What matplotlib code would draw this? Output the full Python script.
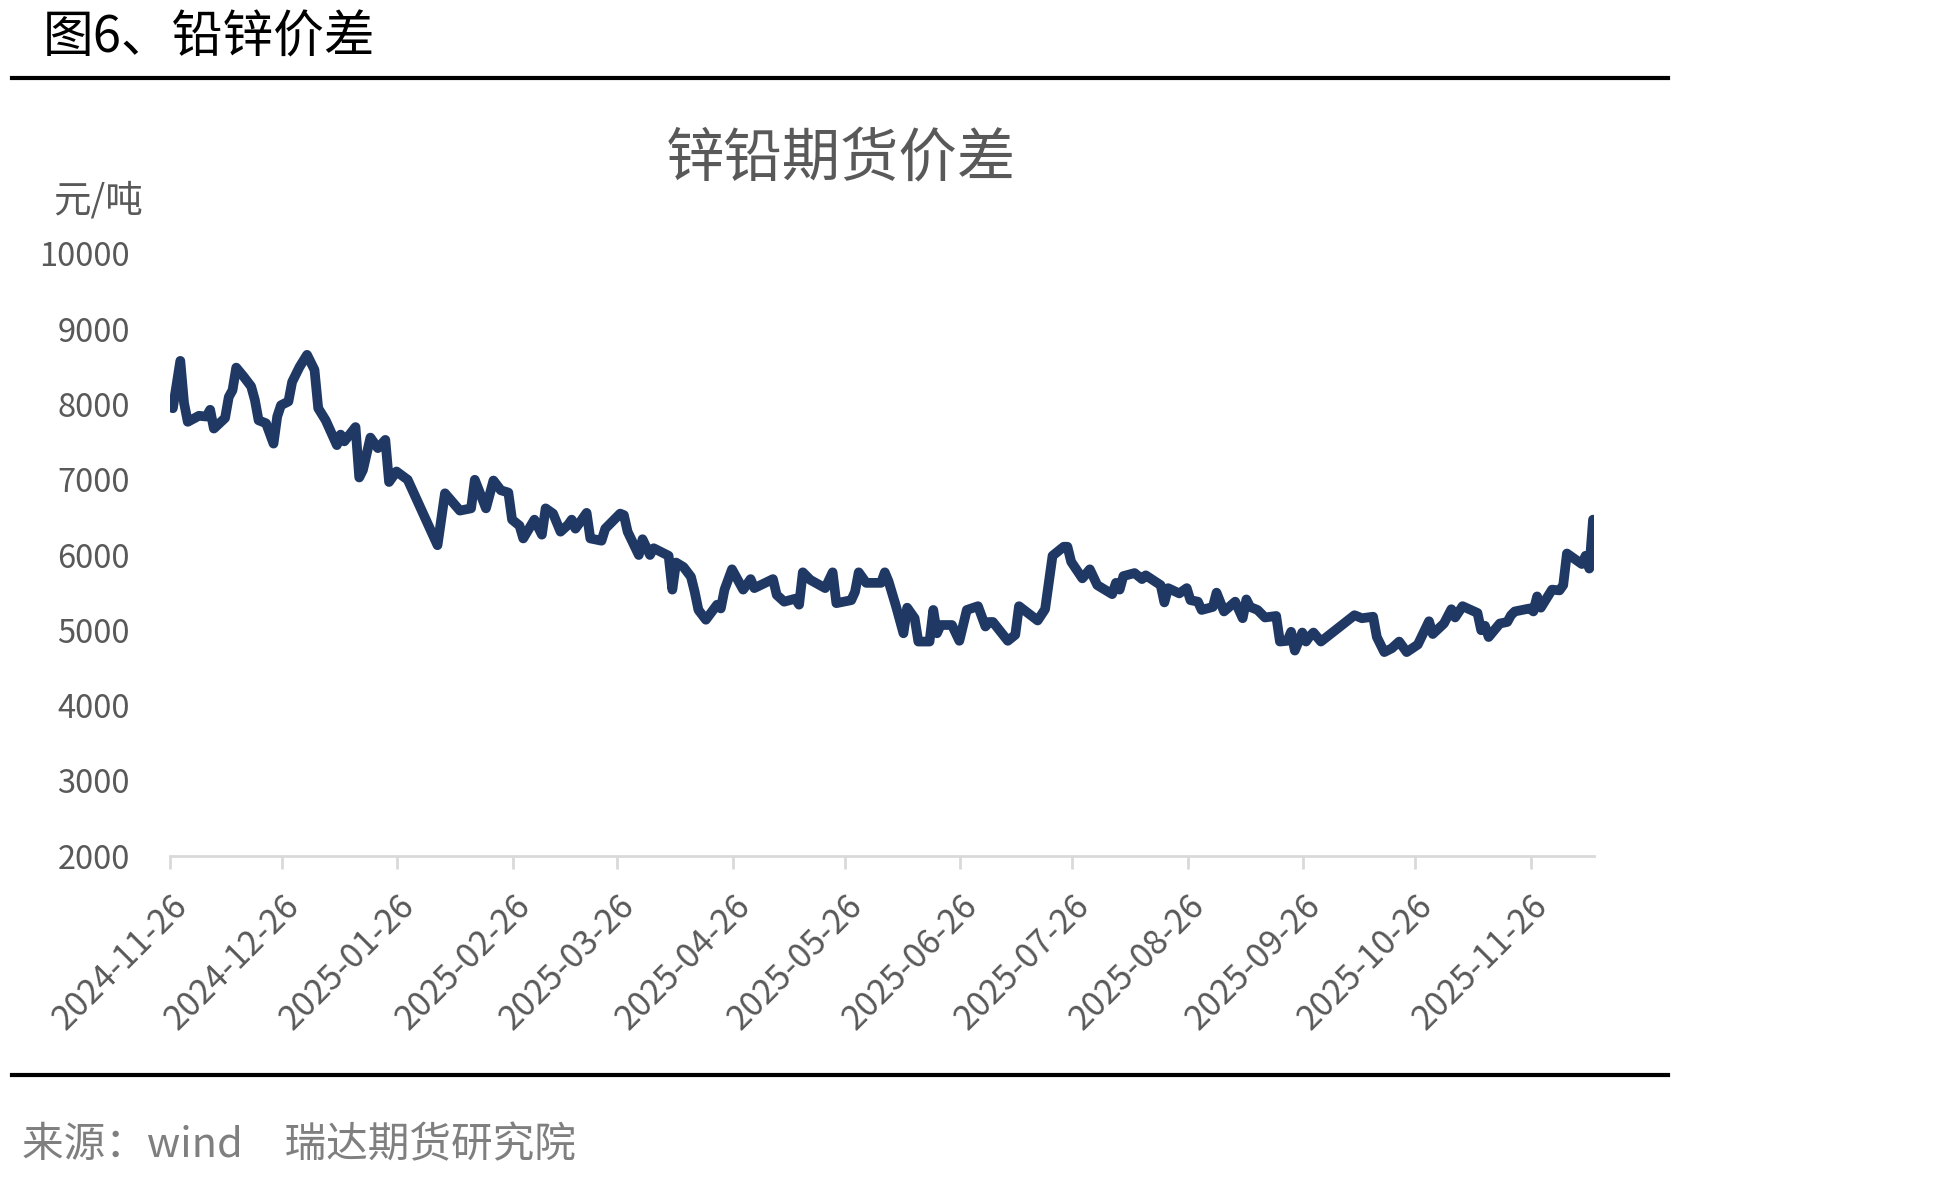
import pandas as pd
import matplotlib
matplotlib.use('Agg')
import matplotlib.pyplot as plt
import matplotlib.dates as mdates
from matplotlib.lines import Line2D

plt.rcParams['font.family'] = ['Noto Sans CJK SC', 'DejaVu Sans']

# zinc-lead futures spread, yuan/ton
dates = [
    '2024-11-26', '2024-11-28', '2024-11-29', '2024-11-30', '2024-12-03', '2024-12-05',
    '2024-12-06', '2024-12-07', '2024-12-10', '2024-12-11', '2024-12-12', '2024-12-13',
    '2024-12-15', '2024-12-17', '2024-12-18', '2024-12-19', '2024-12-21', '2024-12-23',
    '2024-12-24', '2024-12-25', '2024-12-27', '2024-12-28', '2024-12-30', '2025-01-01',
    '2025-01-03', '2025-01-04', '2025-01-06', '2025-01-07', '2025-01-09', '2025-01-10',
    '2025-01-11', '2025-01-14', '2025-01-15', '2025-01-16', '2025-01-18', '2025-01-20',
    '2025-01-22', '2025-01-23', '2025-01-25', '2025-01-28', '2025-02-05', '2025-02-07',
    '2025-02-11', '2025-02-14', '2025-02-15', '2025-02-18', '2025-02-20', '2025-02-22',
    '2025-02-24', '2025-02-25', '2025-02-27', '2025-02-28', '2025-03-03', '2025-03-05',
    '2025-03-06', '2025-03-08', '2025-03-10', '2025-03-12', '2025-03-13', '2025-03-14',
    '2025-03-17', '2025-03-18', '2025-03-21', '2025-03-22', '2025-03-26', '2025-03-27',
    '2025-03-28', '2025-03-31', '2025-04-01', '2025-04-03', '2025-04-04', '2025-04-08',
    '2025-04-09', '2025-04-10', '2025-04-12', '2025-04-14', '2025-04-15', '2025-04-16',
    '2025-04-18', '2025-04-21', '2025-04-22', '2025-04-23', '2025-04-25', '2025-04-28',
    '2025-04-30', '2025-05-01', '2025-05-06', '2025-05-07', '2025-05-09', '2025-05-12',
    '2025-05-13', '2025-05-14', '2025-05-16', '2025-05-20', '2025-05-22', '2025-05-23',
    '2025-05-27', '2025-05-28', '2025-05-29', '2025-05-31', '2025-06-04', '2025-06-05',
    '2025-06-06', '2025-06-08', '2025-06-10', '2025-06-11', '2025-06-13', '2025-06-14',
    '2025-06-17', '2025-06-18', '2025-06-19', '2025-06-20', '2025-06-23', '2025-06-25',
    '2025-06-27', '2025-06-30', '2025-07-02', '2025-07-03', '2025-07-04', '2025-07-08',
    '2025-07-10', '2025-07-11', '2025-07-16', '2025-07-18', '2025-07-20', '2025-07-23',
    '2025-07-24', '2025-07-25', '2025-07-28', '2025-07-30', '2025-08-01', '2025-08-05',
    '2025-08-06', '2025-08-07', '2025-08-08', '2025-08-11', '2025-08-13', '2025-08-14',
    '2025-08-18', '2025-08-19', '2025-08-20', '2025-08-23', '2025-08-25', '2025-08-26',
    '2025-08-28', '2025-08-29', '2025-09-01', '2025-09-02', '2025-09-04', '2025-09-07',
    '2025-09-09', '2025-09-10', '2025-09-11', '2025-09-13', '2025-09-15', '2025-09-18',
    '2025-09-19', '2025-09-21', '2025-09-22', '2025-09-23', '2025-09-25', '2025-09-26',
    '2025-09-27', '2025-09-28', '2025-09-30', '2025-10-09', '2025-10-11', '2025-10-14',
    '2025-10-15', '2025-10-17', '2025-10-19', '2025-10-21', '2025-10-23', '2025-10-26',
    '2025-10-29', '2025-10-30', '2025-11-02', '2025-11-04', '2025-11-05', '2025-11-07',
    '2025-11-11', '2025-11-12', '2025-11-13', '2025-11-14', '2025-11-17', '2025-11-19',
    '2025-11-20', '2025-11-21', '2025-11-25', '2025-11-26', '2025-11-27', '2025-11-28',
    '2025-12-01', '2025-12-03', '2025-12-04', '2025-12-05', '2025-12-09', '2025-12-10',
    '2025-12-11', '2025-12-12',
]
spread = [
    7950, 8580, 8020, 7770, 7850, 7840,
    7930, 7680, 7820, 8100, 8190, 8490,
    8370, 8240, 8060, 7790, 7750, 7480,
    7840, 7990, 8040, 8300, 8500, 8660,
    8460, 7950, 7790, 7680, 7460, 7600,
    7510, 7700, 7030, 7130, 7560, 7420,
    7530, 6970, 7110, 7000, 6130, 6820,
    6590, 6620, 7000, 6620, 6990, 6860,
    6830, 6470, 6390, 6220, 6470, 6270,
    6620, 6550, 6310, 6400, 6470, 6350,
    6560, 6220, 6190, 6350, 6550, 6530,
    6310, 6000, 6210, 6000, 6090, 5990,
    5540, 5900, 5840, 5710, 5510, 5270,
    5140, 5340, 5290, 5540, 5810, 5540,
    5680, 5560, 5680, 5470, 5380, 5420,
    5340, 5770, 5670, 5560, 5770, 5360,
    5400, 5510, 5770, 5630, 5630, 5770,
    5650, 5320, 4960, 5300, 5160, 4850,
    4850, 5270, 4960, 5070, 5070, 4860,
    5270, 5320, 5050, 5110, 5110, 4860,
    4940, 5320, 5130, 5280, 5990, 6110,
    6110, 5910, 5690, 5810, 5600, 5480,
    5630, 5540, 5720, 5760, 5680, 5730,
    5600, 5370, 5560, 5490, 5560, 5400,
    5380, 5270, 5310, 5500, 5250, 5380,
    5160, 5410, 5310, 5270, 5170, 5190,
    4850, 4860, 4980, 4730, 4970, 4850,
    4920, 4970, 4850, 5200, 5160, 5180,
    4910, 4710, 4760, 4850, 4710, 4810,
    5120, 4950, 5090, 5280, 5170, 5320,
    5230, 5000, 5060, 4910, 5090, 5110,
    5200, 5250, 5290, 5250, 5450, 5300,
    5540, 5530, 5600, 6020, 5880, 5990,
    5820, 6470,
]
tick_dates = ['2024-11-26', '2024-12-26', '2025-01-26', '2025-02-26', '2025-03-26',
              '2025-04-26', '2025-05-26', '2025-06-26', '2025-07-26', '2025-08-26',
              '2025-09-26', '2025-10-26', '2025-11-26']
y_ticks = [2000, 3000, 4000, 5000, 6000, 7000, 8000, 9000, 10000]

x = pd.to_datetime(dates) + pd.Timedelta(hours=18)

fig = plt.figure(figsize=(19.37, 11.78), dpi=100)
ax = fig.add_axes([0.0878, 0.2733, 0.7351, 0.5111])

ax.plot(x, spread, color='#1F3864', linewidth=7,
        solid_joinstyle='round', solid_capstyle='round')

ax.set_ylim(2000, 10000)
ax.set_yticks(y_ticks)
ax.set_xlim(pd.Timestamp('2024-11-26'), pd.Timestamp('2025-12-13'))
ax.set_xticks(pd.to_datetime(tick_dates))
ax.xaxis.set_major_formatter(mdates.DateFormatter('%Y-%m-%d'))

for s in ['top', 'right', 'left']:
    ax.spines[s].set_visible(False)
ax.spines['bottom'].set_color('#d9d9d9')
ax.spines['bottom'].set_linewidth(2)

ax.tick_params(axis='y', length=0, pad=29, labelsize=23.5, labelcolor='#595959')
ax.tick_params(axis='x', length=9, width=2, color='#d9d9d9', pad=14,
               labelsize=24.5, labelcolor='#595959')
for lab in ax.get_xticklabels():
    lab.set_rotation(45)
    lab.set_ha('right')
    lab.set_va('top')
    lab.set_rotation_mode('anchor')

# titles and texts
fig.text(0.434, 0.864, '锌铅期货价差', ha='center', va='center', fontsize=42, color='#595959')
fig.text(0.0504, 0.829, '元/吨', ha='center', va='center', fontsize=27, color='#595959')
fig.text(0.0222, 0.967, '图6、铅锌价差', ha='left', va='center', fontsize=36.5, color='black')
fig.text(0.0114, 0.027, '来源：wind　瑞达期货研究院', ha='left', va='center',
         fontsize=30, color='#7f7f7f')

# black rules above and below the chart
fig.add_artist(Line2D([0.0062, 0.861], [0.9338, 0.9338], transform=fig.transFigure,
                      color='black', linewidth=3))
fig.add_artist(Line2D([0.0062, 0.861], [0.0874, 0.0874], transform=fig.transFigure,
                      color='black', linewidth=3))

fig.savefig('out.png', dpi=100)
